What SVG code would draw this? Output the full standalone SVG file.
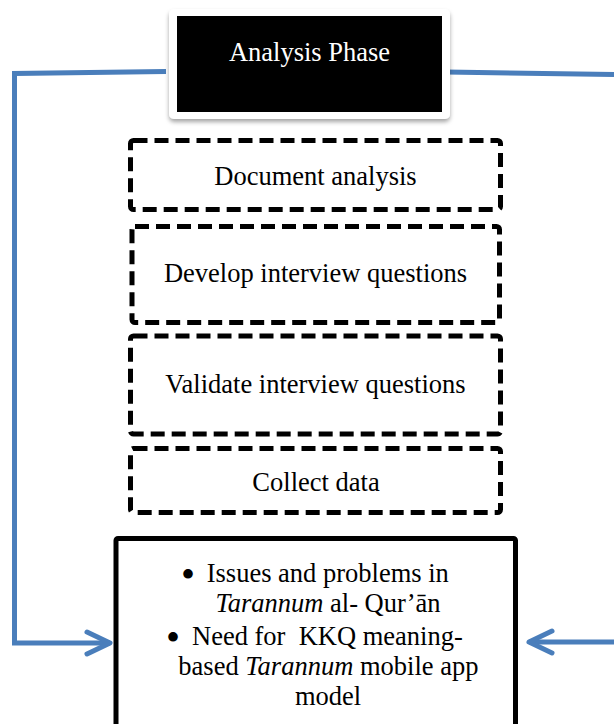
<svg xmlns="http://www.w3.org/2000/svg" width="614" height="724" viewBox="0 0 614 724">
<style>
  .t { font-family: "Liberation Serif", "Times New Roman", serif; font-size: 26.5px; fill: #000; font-style: normal; }
  .w { fill: #fff; }
  .b { font-family: "Liberation Serif", "Times New Roman", serif; font-size: 40px; fill: #000; }
  .dash { fill: #fff; stroke: #000; stroke-width: 5; stroke-dasharray: 14 7; }
  .conn { fill: none; stroke: #4a7ebb; stroke-width: 5; stroke-linejoin: miter; }
  .it { font-style: italic; }
  .up { font-style: normal; }
</style>
<defs>
  <filter id="shadow" x="-10%" y="-10%" width="120%" height="130%">
    <feDropShadow dx="0" dy="3" stdDeviation="2" flood-color="#000" flood-opacity="0.35"/>
  </filter>
  <marker id="chev" markerUnits="userSpaceOnUse" markerWidth="40" markerHeight="40" viewBox="-30 -20 40 40" refX="0" refY="0" orient="auto" overflow="visible">
    <path d="M-23,-11 L0,0 L-23,11" fill="none" stroke="#4a7ebb" stroke-width="5" stroke-linecap="round" stroke-linejoin="round"/>
  </marker>
</defs>

<g id="connectors">
  <path class="conn" d="M166,71.5 L14.5,73.5 L14.5,643 L110,643" marker-end="url(#chev)"/>
  <path class="conn" d="M446,72 L614,74.5"/>
  <path class="conn" d="M614,642 L529,642" marker-end="url(#chev)"/>
</g>

<g id="analysis-phase">
  <rect x="169" y="9" width="281" height="110" rx="5" fill="#fff" filter="url(#shadow)"/>
  <rect x="177" y="16" width="265" height="96" fill="#000"/>
  <text class="t w" x="309.5" y="61" text-anchor="middle">Analysis Phase</text>
</g>

<g id="document-analysis">
  <rect class="dash" x="130.5" y="140.5" width="370" height="69" rx="3"/>
  <text class="t" x="315.5" y="185" text-anchor="middle">Document analysis</text>
</g>

<g id="develop-questions">
  <rect class="dash" x="132" y="226.5" width="367.5" height="96" rx="3"/>
  <text class="t" x="315.5" y="282" text-anchor="middle">Develop interview questions</text>
</g>

<g id="validate-questions">
  <rect class="dash" x="130.5" y="336" width="370" height="98" rx="3"/>
  <text class="t" x="315.5" y="393" text-anchor="middle">Validate interview questions</text>
</g>

<g id="collect-data">
  <rect class="dash" x="130.5" y="448.5" width="370" height="64" rx="3"/>
  <text class="t" x="316" y="491" text-anchor="middle">Collect data</text>
</g>

<g id="outcomes">
  <rect x="116" y="538.5" width="399.5" height="200" rx="2" fill="#fff" stroke="#000" stroke-width="5"/>
  <text class="b" x="188" y="587.5" text-anchor="middle">•</text>
  <text class="t" x="206.7" y="582">Issues and problems in</text>
  <text class="t" x="328" y="612" text-anchor="middle"><tspan class="it">Tarannum</tspan><tspan class="up"> al- Qur’ān</tspan></text>
  <text class="b" x="173" y="650.5" text-anchor="middle">•</text>
  <text class="t" x="192" y="645">Need for&#160; KKQ meaning-</text>
  <text class="t" x="328.4" y="675" text-anchor="middle"><tspan class="up">based </tspan><tspan class="it">Tarannum</tspan><tspan class="up"> mobile app</tspan></text>
  <text class="t" x="328" y="705" text-anchor="middle">model</text>
</g>
</svg>
